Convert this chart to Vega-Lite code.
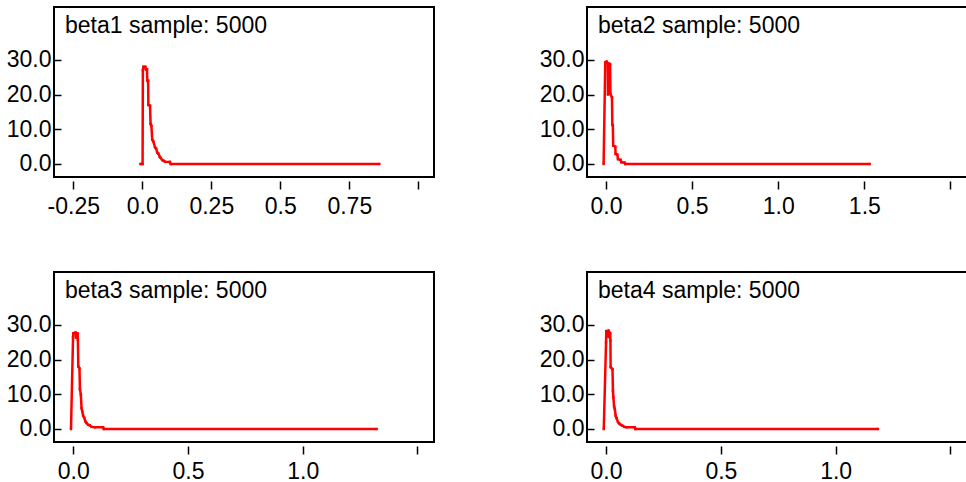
{
  "$schema": "https://vega.github.io/schema/vega-lite/v6.json",
  "background": "white",
  "padding": {"left": 5, "top": 6, "right": 0, "bottom": 0},
  "config": {
    "font": "Liberation Sans",
    "view": {"stroke": "#000000", "strokeWidth": 2},
    "axis": {
      "grid": false,
      "domain": false,
      "labelFont": "Liberation Sans",
      "labelFontSize": 23,
      "labelColor": "#000000",
      "tickColor": "#000000",
      "tickWidth": 1.5
    },
    "axisX": {"offset": 4, "tickSize": 8, "labelPadding": 6},
    "axisY": {"tickSize": -7, "labelPadding": 10},
    "title": {
      "anchor": "start",
      "frame": "group",
      "font": "Liberation Sans",
      "fontSize": 23,
      "fontWeight": "normal",
      "color": "#000000",
      "baseline": "alphabetic",
      "offset": -31,
      "dx": 11
    },
    "line": {"color": "#ff0000", "strokeWidth": 2.5}
  },
  "datasets": {
    "beta1": [
      {"x": -0.007, "density": 0}, {"x": 0.001, "density": 0}, {"x": 0.002, "density": 27.0},
      {"x": 0.004, "density": 28.0}, {"x": 0.011, "density": 28.0}, {"x": 0.013, "density": 27.3},
      {"x": 0.017, "density": 27.3}, {"x": 0.018, "density": 24.0}, {"x": 0.021, "density": 24.0},
      {"x": 0.022, "density": 17.0}, {"x": 0.028, "density": 16.8}, {"x": 0.030, "density": 11.5},
      {"x": 0.033, "density": 11.0}, {"x": 0.036, "density": 7.0}, {"x": 0.040, "density": 6.5},
      {"x": 0.046, "density": 4.8}, {"x": 0.050, "density": 4.5}, {"x": 0.054, "density": 3.3},
      {"x": 0.058, "density": 3.0}, {"x": 0.063, "density": 2.1}, {"x": 0.066, "density": 1.8},
      {"x": 0.072, "density": 1.15}, {"x": 0.078, "density": 0.9}, {"x": 0.082, "density": 0.66},
      {"x": 0.100, "density": 0.6}, {"x": 0.103, "density": 0}, {"x": 0.859, "density": 0}
    ],
    "beta2": [
      {"x": -0.0135, "density": 0}, {"x": -0.004, "density": 29.3}, {"x": 0.004, "density": 29.5},
      {"x": 0.011, "density": 29.0}, {"x": 0.0116, "density": 20.0}, {"x": 0.013, "density": 29.0},
      {"x": 0.024, "density": 28.8}, {"x": 0.026, "density": 20.2}, {"x": 0.035, "density": 19.2},
      {"x": 0.037, "density": 11.3}, {"x": 0.040, "density": 11.2}, {"x": 0.042, "density": 5.3},
      {"x": 0.054, "density": 5.0}, {"x": 0.056, "density": 2.9}, {"x": 0.066, "density": 2.7},
      {"x": 0.070, "density": 1.4}, {"x": 0.085, "density": 1.2}, {"x": 0.090, "density": 0.5},
      {"x": 0.108, "density": 0.4}, {"x": 0.112, "density": 0}, {"x": 1.531, "density": 0}
    ],
    "beta3": [
      {"x": -0.010, "density": 0}, {"x": -0.001, "density": 26.5}, {"x": 0.0, "density": 27.6},
      {"x": 0.010, "density": 27.8}, {"x": 0.012, "density": 26.3}, {"x": 0.016, "density": 27.6},
      {"x": 0.019, "density": 27.5}, {"x": 0.020, "density": 25.8}, {"x": 0.022, "density": 18.0},
      {"x": 0.027, "density": 17.5}, {"x": 0.029, "density": 11.5}, {"x": 0.033, "density": 9.9},
      {"x": 0.036, "density": 6.0}, {"x": 0.039, "density": 5.1}, {"x": 0.043, "density": 3.8},
      {"x": 0.048, "density": 3.2}, {"x": 0.053, "density": 2.2}, {"x": 0.058, "density": 1.7},
      {"x": 0.065, "density": 1.2}, {"x": 0.072, "density": 1.05}, {"x": 0.080, "density": 0.6},
      {"x": 0.094, "density": 0.5}, {"x": 0.130, "density": 0.5}, {"x": 0.133, "density": 0},
      {"x": 1.322, "density": 0}
    ],
    "beta4": [
      {"x": -0.010, "density": 0}, {"x": 0.0, "density": 25.0}, {"x": 0.001, "density": 28.2},
      {"x": 0.010, "density": 28.3}, {"x": 0.011, "density": 26.5}, {"x": 0.013, "density": 28.0},
      {"x": 0.018, "density": 27.6}, {"x": 0.019, "density": 25.5}, {"x": 0.020, "density": 17.8},
      {"x": 0.028, "density": 17.3}, {"x": 0.030, "density": 11.0}, {"x": 0.032, "density": 9.1},
      {"x": 0.035, "density": 6.5}, {"x": 0.038, "density": 5.8}, {"x": 0.042, "density": 3.8},
      {"x": 0.046, "density": 3.1}, {"x": 0.052, "density": 2.0}, {"x": 0.057, "density": 1.6},
      {"x": 0.064, "density": 1.2}, {"x": 0.070, "density": 1.0}, {"x": 0.080, "density": 0.6},
      {"x": 0.090, "density": 0.5}, {"x": 0.125, "density": 0.5}, {"x": 0.128, "density": 0},
      {"x": 1.184, "density": 0}
    ]
  },
  "columns": 2,
  "bounds": "flush",
  "spacing": {"row": 95, "column": 153},
  "concat": [
    {
      "width": 380, "height": 170,
      "title": "beta1 sample: 5000",
      "data": {"name": "beta1"},
      "mark": {"type": "line", "point": {"shape": "square", "size": 6, "filled": true, "color": "#ff0000"}},
      "encoding": {
        "x": {"field": "x", "type": "quantitative", "title": null,
              "scale": {"domain": [-0.32, 1.057], "nice": false, "zero": false},
              "axis": {"values": [-0.25, 0, 0.25, 0.5, 0.75, 1.0],
                       "labelExpr": "datum.value >= 1 ? '' : datum.value == 0 ? '0.0' : datum.value < 0 ? '-' + toString(-datum.value) : toString(datum.value)"}},
        "y": {"field": "density", "type": "quantitative", "title": null,
              "scale": {"domain": [-3.75, 45.25], "nice": false, "zero": false},
              "axis": {"values": [0, 10, 20, 30], "format": ".1f"}}
      }
    },
    {
      "width": 380, "height": 170,
      "title": "beta2 sample: 5000",
      "data": {"name": "beta2"},
      "mark": {"type": "line", "point": {"shape": "square", "size": 6, "filled": true, "color": "#ff0000"}},
      "encoding": {
        "x": {"field": "x", "type": "quantitative", "title": null,
              "scale": {"domain": [-0.11, 2.096], "nice": false, "zero": false},
              "axis": {"values": [0, 0.5, 1.0, 1.5, 2.0],
                       "labelExpr": "datum.value >= 2 ? '' : format(datum.value, '.1f')"}},
        "y": {"field": "density", "type": "quantitative", "title": null,
              "scale": {"domain": [-3.75, 45.25], "nice": false, "zero": false},
              "axis": {"values": [0, 10, 20, 30], "format": ".1f"}}
      }
    },
    {
      "width": 380, "height": 170,
      "title": "beta3 sample: 5000",
      "data": {"name": "beta3"},
      "mark": {"type": "line", "point": {"shape": "square", "size": 6, "filled": true, "color": "#ff0000"}},
      "encoding": {
        "x": {"field": "x", "type": "quantitative", "title": null,
              "scale": {"domain": [-0.084, 1.572], "nice": false, "zero": false},
              "axis": {"values": [0, 0.5, 1.0, 1.5],
                       "labelExpr": "datum.value >= 1.5 ? '' : format(datum.value, '.1f')"}},
        "y": {"field": "density", "type": "quantitative", "title": null,
              "scale": {"domain": [-3.75, 45.25], "nice": false, "zero": false},
              "axis": {"values": [0, 10, 20, 30], "format": ".1f"}}
      }
    },
    {
      "width": 380, "height": 170,
      "title": "beta4 sample: 5000",
      "data": {"name": "beta4"},
      "mark": {"type": "line", "point": {"shape": "square", "size": 6, "filled": true, "color": "#ff0000"}},
      "encoding": {
        "x": {"field": "x", "type": "quantitative", "title": null,
              "scale": {"domain": [-0.083, 1.572], "nice": false, "zero": false},
              "axis": {"values": [0, 0.5, 1.0, 1.5],
                       "labelExpr": "datum.value >= 1.5 ? '' : format(datum.value, '.1f')"}},
        "y": {"field": "density", "type": "quantitative", "title": null,
              "scale": {"domain": [-3.75, 45.25], "nice": false, "zero": false},
              "axis": {"values": [0, 10, 20, 30], "format": ".1f"}}
      }
    }
  ]
}
